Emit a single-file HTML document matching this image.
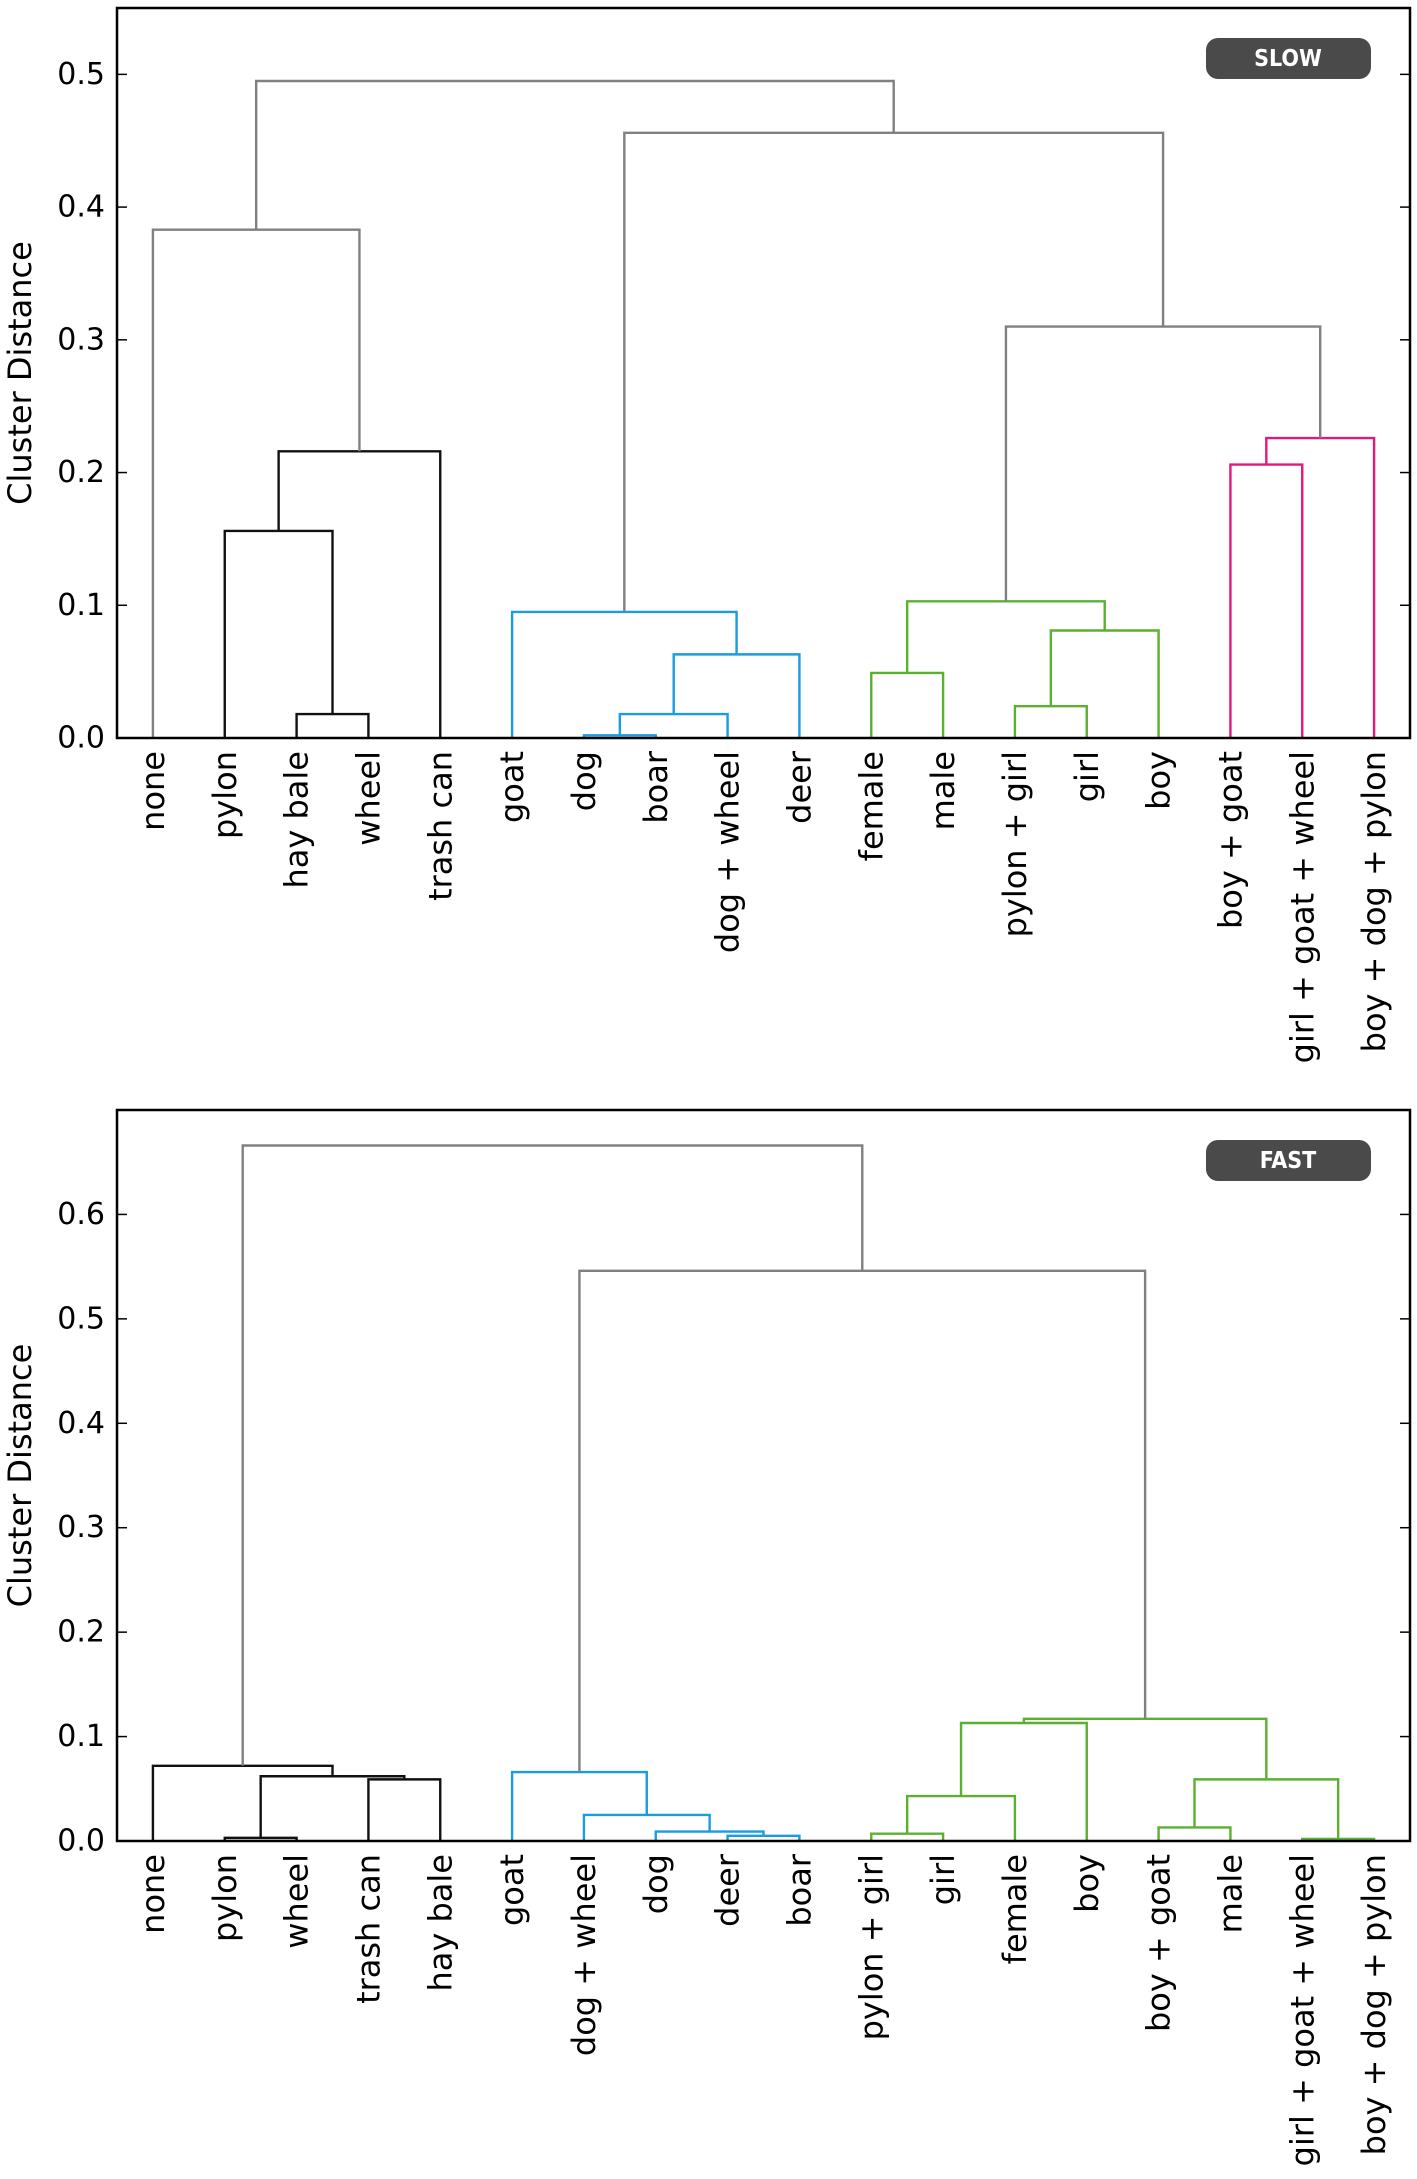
<!DOCTYPE html>
<html><head><meta charset="utf-8"><style>
html,body{margin:0;padding:0;background:#fff;}
svg{display:block;}
</style></head><body>
<svg id="chart" width="1417" height="2179" xmlns="http://www.w3.org/2000/svg"></svg>
<script>
// ---- Data: SLOW panel ----
const slowLeaves = ["none","pylon","hay bale","wheel","trash can","goat","dog","boar","dog + wheel","deer","female","male","pylon + girl","girl","boy","boy + goat","girl + goat + wheel","boy + dog + pylon"];
// merges: [childA, childB, height, colorKey]; ids >= nLeaves refer to earlier merges
const slowMerges = [
 [2,3,0.018,"k"],[1,18,0.156,"k"],[19,4,0.216,"k"],[0,20,0.383,"g"],
 [6,7,0.002,"b"],[22,8,0.018,"b"],[23,9,0.063,"b"],[5,24,0.095,"b"],
 [10,11,0.049,"n"],[12,13,0.024,"n"],[27,14,0.081,"n"],[26,28,0.103,"n"],
 [15,16,0.206,"p"],[30,17,0.226,"p"],
 [29,31,0.310,"g"],[25,32,0.456,"g"],[21,33,0.495,"g"]
];
const slowTicks = ["0.0","0.1","0.2","0.3","0.4","0.5"];
const slowTickVals = [0,0.1,0.2,0.3,0.4,0.5];
const slowYMax = 0.55;

// ---- Data: FAST panel ----
const fastLeaves = ["none","pylon","wheel","trash can","hay bale","goat","dog + wheel","dog","deer","boar","pylon + girl","girl","female","boy","boy + goat","male","girl + goat + wheel","boy + dog + pylon"];
const fastMerges = [
 [1,2,0.003,"k"],[3,4,0.059,"k"],[18,19,0.062,"k"],[0,20,0.072,"k"],
 [8,9,0.005,"b"],[7,22,0.009,"b"],[6,23,0.025,"b"],[5,24,0.066,"b"],
 [10,11,0.007,"n"],[26,12,0.043,"n"],[27,13,0.113,"n"],
 [16,17,0.002,"n"],[14,15,0.013,"n"],[30,29,0.059,"n"],[28,31,0.117,"n"],
 [25,32,0.546,"g"],[21,33,0.666,"g"]
];
const fastTicks = ["0.0","0.1","0.2","0.3","0.4","0.5","0.6"];
const fastTickVals = [0,0.1,0.2,0.3,0.4,0.5,0.6];
const fastYMax = 0.70;

const colors = {k:"#111111", b:"#1a9be2", n:"#5bb030", p:"#e5187a", g:"#808080"};
const svg = document.getElementById('chart');
const NS = "http://www.w3.org/2000/svg";
function mk(tag, attrs, parent){ const e=document.createElementNS(NS,tag); for(const k in attrs) e.setAttribute(k,attrs[k]); (parent||svg).appendChild(e); return e; }

function panel(name, leaves, merges, ticks, tickVals, yMax, top, bottom, badge, badgeY){
  const left=117, right=1410;
  const g = mk('g',{});
  
  
  const n = leaves.length;
  const xs = i => left + (right-left)*(i+0.5)/n;
  const ys = v => bottom - (bottom-top)*v/yMax;
  const pos = [];
  for(let i=0;i<n;i++) pos.push([i,0]);
  merges.forEach((m,k)=>{
    const a=pos[m[0]], b=pos[m[1]], h=m[2];
    const p = mk('path',{d:`M${xs(a[0])},${ys(a[1])}V${ys(h)}H${xs(b[0])}V${ys(b[1])}`, fill:'none', stroke:colors[m[3]], 'stroke-width':2.4}, g);
    
    
    pos.push([(a[0]+b[0])/2, h]);
  });
  const fr = mk('rect',{x:left,y:top,width:right-left,height:bottom-top,fill:'none',stroke:'#000','stroke-width':2.5},g);
  
  
  tickVals.forEach((v,i)=>{
    const y=ys(v);
    mk('line',{x1:left,x2:left+10,y1:y,y2:y,stroke:'#000','stroke-width':1.5},g);
    mk('line',{x1:right-10,x2:right,y1:y,y2:y,stroke:'#000','stroke-width':1.5},g);
    const t = mk('text',{x:105,y:y,'text-anchor':'end','dominant-baseline':'central','font-family':'DejaVu Sans, sans-serif','font-size':30,fill:'#000'},g);
    t.textContent = ticks[i];
    
    
  });
  leaves.forEach((l,i)=>{
    const x=xs(i), y=bottom+13;
    const t = mk('text',{x:0,y:0,transform:`translate(${x},${y}) rotate(-90)`,'text-anchor':'end','dominant-baseline':'central','font-family':'DejaVu Sans, sans-serif','font-size':32,fill:'#000'},g);
    t.textContent = l;
    
    
  });
  const yt = mk('text',{x:0,y:0,transform:`translate(20,${(top+bottom)/2}) rotate(-90)`,'text-anchor':'middle','dominant-baseline':'central','font-family':'DejaVu Sans, sans-serif','font-size':32,fill:'#000'},g);
  yt.textContent = 'Cluster Distance';
  
  
  const br = mk('rect',{x:1206,y:badgeY,width:165,height:41,rx:12,fill:'#4a4a4a'},g);
  
  
  const bt = mk('text',{x:1288,y:badgeY+21,'text-anchor':'middle','dominant-baseline':'central','font-family':'DejaVu Sans Condensed, DejaVu Sans, sans-serif','font-weight':'bold','font-size':23,fill:'#fff'},g);
  bt.textContent = badge;
  
  
}
panel('slow', slowLeaves, slowMerges, slowTicks, slowTickVals, slowYMax, 8, 738, 'SLOW', 38);
panel('fast', fastLeaves, fastMerges, fastTicks, fastTickVals, fastYMax, 1110, 1841, 'FAST', 1140);
</script>
</body></html>
